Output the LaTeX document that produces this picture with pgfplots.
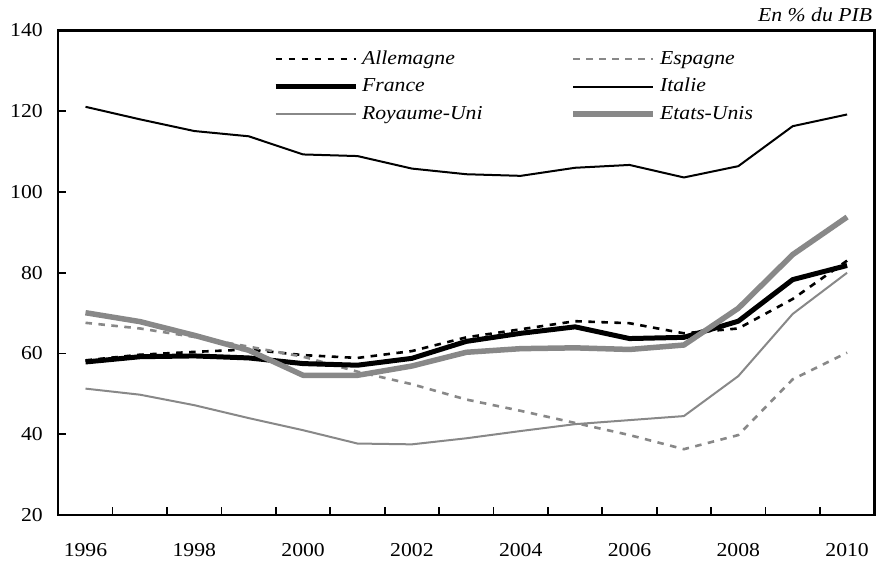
\documentclass[border=0pt]{standalone}
\usepackage{fontspec}
\setmainfont{Liberation Serif}[FakeStretch=1.1]
\usepackage{pgfplots}
\usepackage{pgfplotstable}
\pgfplotsset{compat=1.18}
\definecolor{gr}{RGB}{136,136,136}
\newcommand{\ff}{\fontsize{19.8}{23}\selectfont}
\pgfplotstableread{
year all esp fra ita ru eu
1996 58.3 67.6 57.9 121.1 51.3 70.1
1997 59.7 66.2 59.2 118.0 49.8 67.9
1998 60.4 64.1 59.4 115.1 47.2 64.5
1999 61.0 61.7 58.9 113.8 44.0 60.8
2000 59.6 59.2 57.5 109.3 41.0 54.6
2001 58.9 55.5 57.1 108.9 37.7 54.6
2002 60.6 52.4 58.8 105.8 37.5 56.9
2003 64.0 48.6 63.0 104.4 39.0 60.3
2004 66.0 45.8 65.0 104.0 40.8 61.2
2005 68.0 42.8 66.6 106.0 42.5 61.4
2006 67.5 39.8 63.7 106.7 43.5 61.0
2007 65.0 36.3 64.0 103.6 44.5 62.1
2008 66.2 39.8 68.0 106.4 54.4 71.2
2009 73.5 53.6 78.3 116.3 69.8 84.5
2010 83.0 60.2 81.8 119.2 80.0 93.8
}\data
\begin{document}
\begin{tikzpicture}
\path (-58.3bp,-52bp) rectangle (818.7bp,515bp);
\begin{axis}[
  at={(0,0)}, anchor=south west, scale only axis,
  width=816bp, height=484.5bp,
  xmin=1995.5, xmax=2010.5, ymin=20, ymax=140,
  ytick={20,40,...,140},
  xtick={1996.5,1997.5,...,2009.5}, xticklabels={},
  extra x ticks={1996,1998,2000,2002,2004,2006,2008,2010},
  extra x tick labels={1996,1998,2000,2002,2004,2006,2008,2010},
  extra x tick style={major tick length=0pt},
  tick align=inside, tick pos=left,
  major tick length=8bp,
  tick style={line width=1.6bp, black},
  axis line style={line width=2.4bp},
  tick label style={font=\ff},
  /pgf/number format/assume math mode=true,
  yticklabel style={xshift=-12bp},
  xticklabel style={yshift=-25bp},
  legend columns=2,
  legend style={draw=none, fill=none, at={(0.263,0.96)}, anchor=north west,
    font=\ff\itshape, inner sep=0pt, cells={anchor=west},
    nodes={inner sep=0pt, text height=14bp, text depth=4bp},
    row sep=9.5bp,
    /tikz/every odd column/.append style={column sep=4bp},
    /tikz/every even column/.append style={column sep=88bp}},
  legend image code/.code={\draw[#1] (0bp,0bp) -- (80bp,0bp);},
  clip=false,
]
\addplot[black, line width=2.6bp, dash pattern=on 6.5bp off 6.5bp] table[x=year,y=all] {\data};
\addlegendentry{Allemagne}
\addplot[gr, line width=2.6bp, dash pattern=on 6.5bp off 6.5bp] table[x=year,y=esp] {\data};
\addlegendentry{Espagne}
\addplot[black, line width=5bp, line join=round] table[x=year,y=fra] {\data};
\addlegendentry{France}
\addplot[black, line width=2bp, line join=round] table[x=year,y=ita] {\data};
\addlegendentry{Italie}
\addplot[gr, line width=2bp, line join=round] table[x=year,y=ru] {\data};
\addlegendentry{Royaume-Uni}
\addplot[gr, line width=5.5bp, line join=round] table[x=year,y=eu] {\data};
\addlegendentry{Etats-Unis}
\node[anchor=base east, font=\ff\itshape, inner sep=0pt] at ([xshift=-2bp,yshift=8.8bp]rel axis cs:1,1) {En \% du PIB};
\end{axis}
\end{tikzpicture}
\end{document}
